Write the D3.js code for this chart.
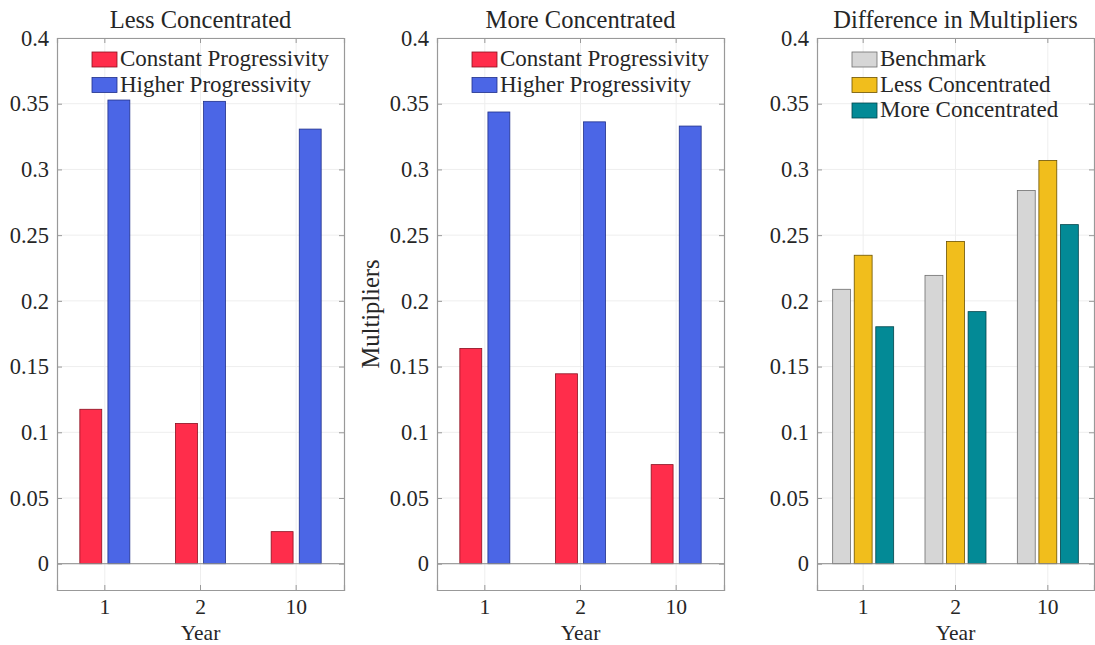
<!DOCTYPE html>
<html>
<head>
<meta charset="utf-8">
<script src="https://cdn.jsdelivr.net/npm/d3@7"></script>
<style>
  body { margin: 0; background: #fff; }
  text { font-family: "Liberation Serif", "DejaVu Serif", serif; fill: #262626; }
</style>
</head>
<body>
<svg id="chart"></svg>
<script>
let width = 1095;
let height = 645;

let years = ["1", "2", "10"];
let yTicks = [0, 0.05, 0.1, 0.15, 0.2, 0.25, 0.3, 0.35, 0.4];

let progSeries = ["Constant Progressivity", "Higher Progressivity"];
let lessConstant = [0.1175, 0.1067, 0.0244];
let lessHigher = [0.3528, 0.3518, 0.3307];
let moreConstant = [0.1638, 0.1445, 0.0754];
let moreHigher = [0.3437, 0.3362, 0.3330];

let diffSeries = ["Benchmark", "Less Concentrated", "More Concentrated"];
let diffBenchmark = [0.2088, 0.2194, 0.2840];
let diffLess = [0.2347, 0.2452, 0.3068];
let diffMore = [0.1803, 0.1918, 0.2580];

let progColors = ["#ff2d4b", "#4b66e6"];
let progEdges = ["#8a1020", "#1f2f8a"];
let diffColors = ["#d6d6d6", "#f1be1c", "#038a96"];
let diffEdges = ["#6e6e6e", "#6b5200", "#02454b"];

let svg = d3.select("#chart").attr("width", width).attr("height", height);

let plotTop = 38, plotBottom = 590;

let panels = [
  { title: "Less Concentrated", left: 57, right: 344, series: progSeries,
    values: [lessConstant, lessHigher], colors: progColors, edges: progEdges,
    groupW: 50, padIn: 0.22, ylabel: null },
  { title: "More Concentrated", left: 437, right: 724, series: progSeries,
    values: [moreConstant, moreHigher], colors: progColors, edges: progEdges,
    groupW: 50, padIn: 0.22, ylabel: "Multipliers" },
  { title: "Difference in Multipliers", left: 817, right: 1094, series: diffSeries,
    values: [diffBenchmark, diffLess, diffMore], colors: diffColors, edges: diffEdges,
    groupW: 61, padIn: 0.17, ylabel: null }
];

let drawPanel = (p) => {
  let g = svg.append("g");

  let xScale = d3.scaleBand().domain(years).range([p.left, p.right]);
  let yScale = d3.scaleLinear().domain([-0.02, 0.4]).range([plotBottom, plotTop]);
  let xSub = d3.scaleBand().domain(p.series)
    .range([-p.groupW / 2, p.groupW / 2]).paddingInner(p.padIn);

  // grid
  g.selectAll(".hgrid").data(yTicks).enter().append("line")
    .attr("x1", p.left).attr("x2", p.right)
    .attr("y1", (d) => yScale(d)).attr("y2", (d) => yScale(d))
    .attr("stroke", "#eeeeee").attr("stroke-width", 1);
  g.selectAll(".vgrid").data(years).enter().append("line")
    .attr("x1", (d) => xScale(d) + xScale.bandwidth() / 2)
    .attr("x2", (d) => xScale(d) + xScale.bandwidth() / 2)
    .attr("y1", plotTop).attr("y2", plotBottom)
    .attr("stroke", "#eeeeee").attr("stroke-width", 1);

  // bars
  p.series.forEach((s, si) => {
    g.selectAll(".bar" + si).data(p.values[si]).enter().append("rect")
      .attr("x", (d, i) => xScale(years[i]) + xScale.bandwidth() / 2 + xSub(s))
      .attr("width", xSub.bandwidth())
      .attr("y", (d) => yScale(d))
      .attr("height", (d) => yScale(0) - yScale(d))
      .attr("fill", p.colors[si])
      .attr("stroke", p.edges[si])
      .attr("stroke-width", 0.8);
  });

  // baseline
  g.append("line")
    .attr("x1", p.left).attr("x2", p.right)
    .attr("y1", yScale(0)).attr("y2", yScale(0))
    .attr("stroke", "#8c8c8c").attr("stroke-width", 1);

  // axes
  let yAxis = d3.axisLeft(yScale).tickValues(yTicks).tickSize(-5).tickPadding(8)
    .tickFormat((d) => d3.format("")(+d.toFixed(2)));
  let yAxisG = g.append("g").attr("transform", "translate(" + p.left + ",0)").call(yAxis);
  let yAxisR = g.append("g").attr("transform", "translate(" + p.right + ",0)")
    .call(d3.axisRight(yScale).tickValues(yTicks).tickSize(-5).tickFormat(""));
  let xAxis = d3.axisBottom(xScale).tickSize(-5).tickPadding(9);
  let xAxisG = g.append("g").attr("transform", "translate(0," + plotBottom + ")").call(xAxis);
  let xAxisT = g.append("g").attr("transform", "translate(0," + plotTop + ")")
    .call(d3.axisTop(xScale).tickSize(-5).tickFormat(""));

  [yAxisG, yAxisR].forEach((a) => {
    a.selectAll("text").style("font-size", "22.5px");
  });
  xAxisG.selectAll("text").style("font-size", "21.5px");
  [yAxisG, yAxisR, xAxisG, xAxisT].forEach((a) => {
    a.select(".domain").attr("stroke", "#999").attr("stroke-width", 1.2);
    a.selectAll(".tick line").attr("stroke", "#999");
    a.selectAll("text").style("font-family", "Liberation Serif").attr("fill", "#262626");
  });

  // title
  g.append("text")
    .attr("x", (p.left + p.right) / 2).attr("y", 28)
    .attr("text-anchor", "middle").style("font-size", "24.5px")
    .text(p.title);

  g.append("text")
    .attr("x", (p.left + p.right) / 2).attr("y", 640)
    .attr("text-anchor", "middle").style("font-size", "21.5px")
    .text("Year");

  if (p.ylabel) {
    g.append("text")
      .attr("transform", "translate(379," + 314 + ") rotate(-90)")
      .attr("text-anchor", "middle").style("font-size", "24.5px")
      .text(p.ylabel);
  }

  // legend
  let leg = g.append("g").attr("transform", "translate(" + (p.left + 35) + ",52)");
  p.series.forEach((s, si) => {
    leg.append("rect")
      .attr("x", 0).attr("y", si * 25.5)
      .attr("width", 25).attr("height", 15)
      .attr("fill", p.colors[si]).attr("stroke", p.edges[si]).attr("stroke-width", 0.8);
    leg.append("text")
      .attr("x", 28).attr("y", si * 25.5 + 14)
      .style("font-size", "23px")
      .text(s);
  });
};

panels.forEach(drawPanel);
</script>
</body>
</html>
